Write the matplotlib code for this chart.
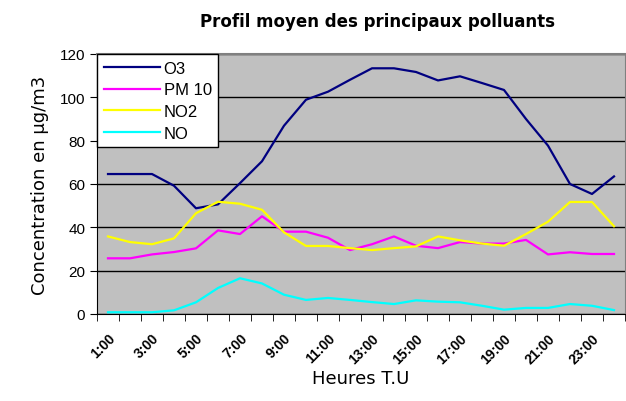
import matplotlib
matplotlib.use('Agg')
import matplotlib.pyplot as plt
import numpy as np

# heures (T.U)
heures = ['%d:00' % h for h in range(1, 25)]

# concentrations moyennes en µg/m3
o3 = [64.6, 64.6, 64.6, 59.2, 48.8, 50.6, 60.4, 70.5, 86.9, 98.9, 102.6, 108.1,
      113.4, 113.4, 111.7, 107.8, 109.7, 106.6, 103.4, 90.0, 77.7, 60.0, 55.4, 63.5]
pm10 = [25.7, 25.7, 27.5, 28.6, 30.3, 38.6, 36.9, 45.1, 38.0, 38.0, 35.2, 29.5,
        32.2, 35.8, 31.5, 30.4, 33.2, 32.5, 32.5, 34.2, 27.5, 28.5, 27.7, 27.7]
no2 = [35.8, 33.2, 32.2, 34.9, 46.5, 51.8, 50.9, 48.1, 37.7, 31.4, 31.4, 30.4,
       29.5, 30.4, 31.2, 35.8, 34.0, 32.5, 31.5, 36.9, 42.6, 51.7, 51.7, 40.5]
no = [0.8, 0.8, 0.8, 1.7, 5.4, 12.0, 16.5, 14.1, 8.9, 6.5, 7.4, 6.5,
      5.5, 4.6, 6.3, 5.7, 5.4, 3.8, 2.0, 2.8, 2.8, 4.6, 3.8, 1.8]

series = [('O3', o3, '#000080'), ('PM 10', pm10, '#FF00FF'),
          ('NO2', no2, '#FFFF00'), ('NO', no, '#00FFFF')]

fig = plt.figure(figsize=(6.26, 4.02), dpi=100)
ax = fig.add_axes([97/626, 87/402, 528/626, 260/402])
ax.set_facecolor('#C0C0C0')

x = np.arange(len(heures))
for nom, vals, col in series:
    ax.plot(x, vals, color=col, lw=1.6, label=nom, zorder=3)

ax.set_xlim(-0.5, len(heures) - 0.5)
ax.set_ylim(0, 120)
ax.set_yticks(range(0, 121, 20))
ax.yaxis.grid(True, color='black', lw=1)
ax.set_axisbelow(True)

# ticks aux limites des catégories, étiquettes une heure sur deux
ax.set_xticks(x[::2])
ax.set_xticklabels(heures[::2], rotation=45, ha='right', rotation_mode='anchor',
                   family='Liberation Sans', fontsize=10, fontweight='bold')
ax.set_xticks(np.arange(-0.5, len(heures), 1), minor=True)
ax.tick_params(axis='x', which='major', length=0, pad=12)
ax.tick_params(axis='x', which='minor', length=5, direction='out')
ax.tick_params(axis='y', length=5, direction='out', labelsize=11)
for lab in ax.get_yticklabels():
    lab.set_family('Liberation Sans')

ax.spines['top'].set_color('#808080')
ax.spines['right'].set_color('#808080')
ax.spines['top'].set_linewidth(1.5)

ax.set_ylabel('Concentration en µg/m3', fontsize=13, labelpad=8)
ax.set_xlabel('Heures T.U', fontsize=13, labelpad=2)
fig.text(378/626, 1 - 22/402, 'Profil moyen des principaux polluants',
         ha='center', va='center', fontsize=12, fontweight='bold')

leg = ax.legend(loc='upper left', borderaxespad=0, fancybox=False,
                edgecolor='black', framealpha=1, handlelength=3.4,
                prop={'family': 'Liberation Sans', 'size': 12},
                labelspacing=0.4, borderpad=0.4, handletextpad=0.2)
leg.get_frame().set_linewidth(1)

fig.savefig('out.png', dpi=100)
